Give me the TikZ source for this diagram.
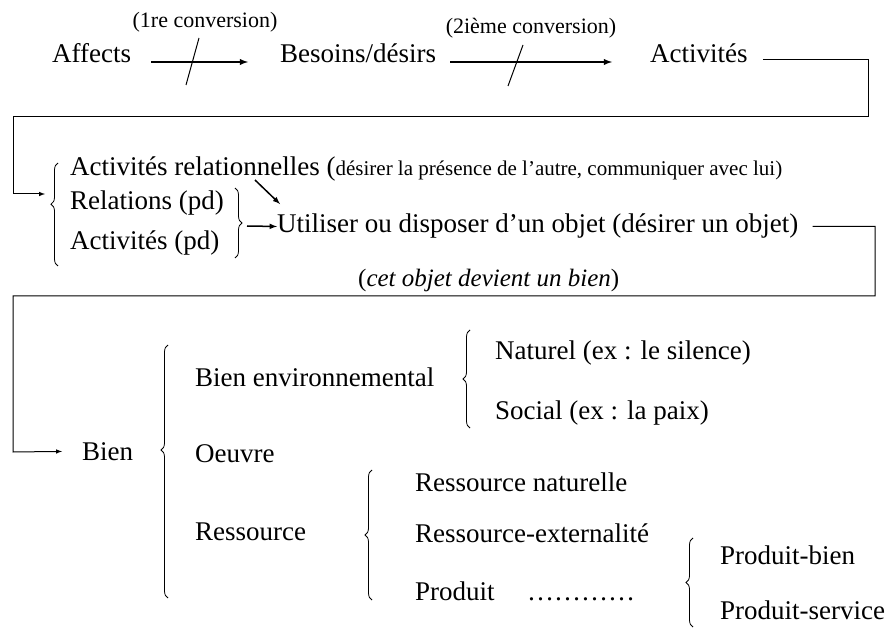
\documentclass[tikz,border=0pt]{standalone}
\usepackage{fontspec}
\setmainfont{Liberation Serif}
\usetikzlibrary{positioning, arrows, decorations.pathreplacing}

\begin{document}
\begin{tikzpicture}[x=1pt, y=-1pt,
    txt/.style={inner sep=0pt, anchor=base west, font=\fontsize{27}{32}\selectfont},
    note/.style={inner sep=0pt, anchor=base, font=\fontsize{22}{26}\selectfont},
    conv/.style={-latex, line width=1.8pt},
    link/.style={line width=1pt},
    brace/.style={decorate, decoration={brace, amplitude=7pt}, line width=0.8pt}]
    \useasboundingbox (0,0) rectangle (892,636);

    % Define the first row (conversions)
    \node[txt] (affects) at (52,63) {Affects};
    \node[txt] (besoins) at (280,63) {Besoins/désirs};
    \node[txt] (activites) at (650,63) {Activités};
    \node[note] (conv1) at (205,28) {(1re conversion)};
    \node[note] (conv2) at (531,34) {(2ième conversion)};

    \draw[conv, shorten <=20pt, shorten >=32pt] ([yshift=1pt]affects.base east) -- ([yshift=1pt]besoins.base west);
    \draw[conv, shorten <=14pt, shorten >=38pt] ([yshift=1pt]besoins.base east) -- ([yshift=1pt]activites.base west);
    \coordinate (cut1) at (192.5,61.5);  % cut on 1st conversion
    \coordinate (cut2) at (515.5,65.5);  % cut on 2nd conversion
    \draw[link] (cut1) ++(6.5,-23.5) -- ++(-13,47);
    \draw[link] (cut2) ++(7.5,-20.5) -- ++(-15,41);

    % Define the second row (activities)
    \coordinate (in1) at (45,194);
    \draw[link, -latex] ([xshift=15pt,yshift=3pt]activites.base east) -| (868,117) -| (13,194) -- (in1);

    \node[txt] (rel) at (70,176) {Activités relationnelles (\fontsize{21}{25}\selectfont désirer la présence de l’autre, communiquer avec lui)};
    \node[txt] (relpd) at (70,210) {Relations (pd)};
    \node[txt] (actpd) at (70,250) {Activités (pd)};
    \node[txt] (utiliser) at (277,233) {Utiliser ou disposer d’un objet (désirer un objet)};
    \node[txt, font=\fontsize{25}{30}\selectfont] (devient) at (358,287) {(\textit{cet objet devient un bien})};

    \draw[brace, decoration={aspect=0.6}] (58,266) -- (58,163);
    \draw[brace] (235,188) -- (235,258);
    \coordinate (pd) at (247,226);  % tip of the closing brace
    \coordinate (relarr) at (255,180);
    \draw[-latex, line width=1.5pt] (pd) -- (utiliser.west);
    \draw[-latex, line width=1.5pt] (relarr) -- ([shift={(3pt,10pt)}]utiliser.north west);

    % Define the third row (goods)
    \node[txt] (bien) at (82,460) {Bien};
    \node[txt] (env) at (195,386) {Bien environnemental};
    \node[txt] (oeuvre) at (195,462) {Oeuvre};
    \node[txt] (ressource) at (195,540) {Ressource};
    \draw[brace, decoration={aspect=0.585}] (168,598) -- (168,345);

    \draw[link, -latex, shorten >=20pt] ([xshift=14pt]utiliser.east) -| (875,296) -| (13,452) -- (bien.west);

    \node[txt] (naturel) at (495,360) {Naturel (ex : le silence)};
    \node[txt] (social) at (495,420) {Social (ex : la paix)};
    \draw[brace] (470,428) -- (470,330);

    \node[txt] (rnat) at (415,491) {Ressource naturelle};
    \node[txt] (rext) at (415,542) {Ressource-externalité};
    \node[txt] (produit) at (415,600) {Produit};
    \node[txt] (dots) at (527,600) {…………};
    \draw[brace] (372,600) -- (372,470);

    \node[txt] (pbien) at (720,564) {Produit-bien};
    \node[txt] (pservice) at (720,619) {Produit-service};
    \draw[brace] (693,627) -- (693,538);
\end{tikzpicture}
\end{document}
